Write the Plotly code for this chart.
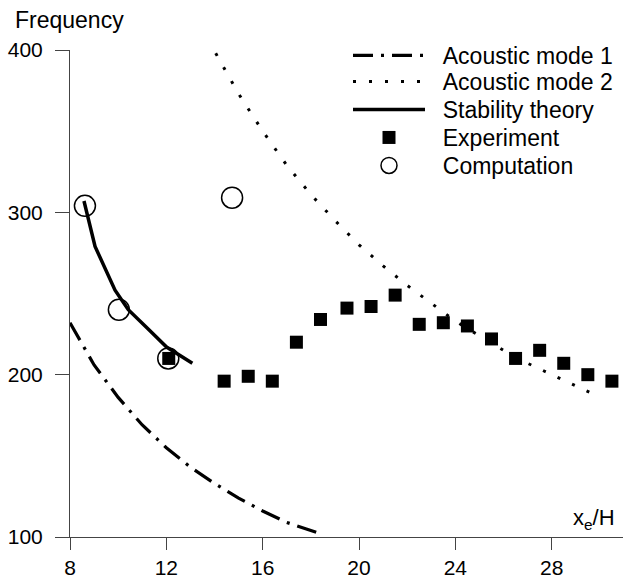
import plotly.graph_objects as go

# ---- data ----
mode1_x = [8, 9, 10, 11, 12, 13, 14, 15, 16, 17, 18.4]
mode1_y = [232, 206, 186, 169, 155, 143, 133, 124, 116, 109, 102]

mode2_x = [14.05, 15, 16, 17, 18, 19, 20, 21, 22, 23, 24, 25, 26, 27, 28, 29, 29.6]
mode2_y = [398, 373, 350, 329, 311, 295, 280, 267, 255, 244, 233, 224, 215, 207, 200, 193, 189]

stab_x = [8.58, 9.04, 9.87, 10.42, 11.32, 12.01, 13.08]
stab_y = [307, 279, 252, 240, 227, 217, 207]

exp_x = [12.1, 14.4, 15.4, 16.4, 17.4, 18.4, 19.5, 20.5, 21.5, 22.5, 23.5, 24.5,
         25.5, 26.5, 27.5, 28.5, 29.5, 30.5]
exp_y = [210, 196, 199, 196, 220, 234, 241, 242, 249, 231, 232, 230,
         222, 210, 215, 207, 200, 196]

comp_x = [8.62, 10.03, 12.08, 14.73]
comp_y = [304, 240, 210, 309]

x_ticks = [8, 12, 16, 20, 24, 28]
y_ticks = [100, 200, 300, 400]

names = ["Acoustic mode 1", "Acoustic mode 2", "Stability theory", "Experiment", "Computation"]

FONT = "Liberation Sans, Arial, Helvetica, sans-serif"
NB = "\u00a0\u00a0"

fig = go.Figure()
fig.add_trace(go.Scatter(x=mode1_x, y=mode1_y, mode="lines", name=NB + names[0],
                         line=dict(color="black", width=3.2, dash="20px,8px,3px,8px"),
                         legend="legend"))
fig.add_trace(go.Scatter(x=mode2_x, y=mode2_y, mode="lines", name=NB + names[1],
                         line=dict(color="black", width=3, dash="3px,13px"),
                         legend="legend2"))
fig.add_trace(go.Scatter(x=stab_x, y=stab_y, mode="lines", name=NB + names[2],
                         line=dict(color="black", width=3.5),
                         legend="legend3"))
fig.add_trace(go.Scatter(x=exp_x, y=exp_y, mode="markers", name=NB + names[3],
                         marker=dict(symbol="square", size=13, color="black"),
                         legend="legend4"))
fig.add_trace(go.Scatter(x=comp_x, y=comp_y, mode="markers", name=NB + names[4],
                         marker=dict(symbol="circle-open", size=21, color="black",
                                     line=dict(width=1.5, color="black")),
                         legend="legend5"))

L = 70
W = 553
T = 50
H = 487

def leg(py):
    return dict(x=(348 - L) / W, y=(T + H - py) / H, xanchor="left", yanchor="middle",
                font=dict(family=FONT, size=23, color="black"),
                bgcolor="rgba(0,0,0,0)", borderwidth=0, itemwidth=72)

fig.update_layout(
    width=623, height=579,
    margin=dict(l=L, r=0, t=T, b=579 - T - H, autoexpand=False),
    paper_bgcolor="white", plot_bgcolor="white",
    font=dict(family=FONT, color="black"),
    showlegend=True,
    legend=leg(55.5), legend2=leg(81.5), legend3=leg(109.5), legend4=leg(137.5), legend5=leg(165.5),
    xaxis=dict(range=[8, 8 + W / 24.085], tickvals=x_ticks, ticktext=[str(v) for v in x_ticks],
               showline=True, linecolor="#444", linewidth=1, ticks="outside", ticklen=12,
               tickcolor="#444", tickwidth=1, showgrid=False, zeroline=False,
               automargin=False,
               tickfont=dict(family=FONT, size=21, color="black")),
    yaxis=dict(range=[100, 400], tickvals=y_ticks, ticktext=[str(v) for v in y_ticks],
               showline=True, linecolor="#444", linewidth=1, ticks="outside", ticklen=14,
               tickcolor="#444", tickwidth=1, showgrid=False, zeroline=False,
               ticklabelstandoff=8, automargin=False,
               tickfont=dict(family=FONT, size=21, color="black")),
    annotations=[
        dict(text="Frequency", xref="paper", yref="paper", x=(13 - L) / W, y=(T + H - 20) / H,
             xanchor="left", yanchor="middle", showarrow=False,
             font=dict(family=FONT, size=23, color="black")),
        dict(text="x<sub>e</sub>/H", xref="paper", yref="paper", x=(594 - L) / W,
             y=(T + H - 519) / H, xanchor="center", yanchor="middle", showarrow=False,
             font=dict(family=FONT, size=22, color="black")),
    ],
)

fig.write_html("out.html", config={"displayModeBar": False},
               post_script="document.body.style.margin='0';document.body.style.overflow='hidden';")
